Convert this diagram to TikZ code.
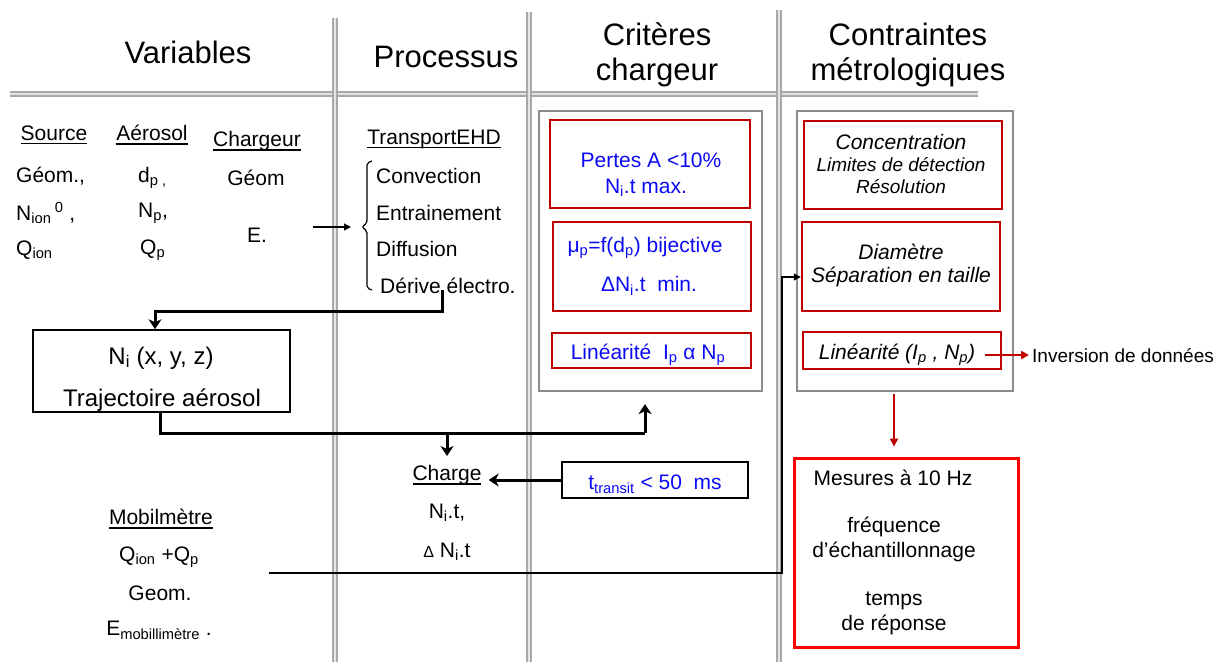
\documentclass[tikz,border=0pt]{standalone}
\usepackage{fontspec}
\setmainfont{Liberation Sans}
\usetikzlibrary{arrows.meta}

\definecolor{boxred}{HTML}{C00000}
\definecolor{brightred}{HTML}{FF0000}
\definecolor{boxgray}{HTML}{8C8C8C}
\definecolor{rulegray}{HTML}{A8A8A8}
\definecolor{rulelight}{HTML}{E4E4E4}
\definecolor{textblue}{HTML}{0A0AF5}

\newcommand\bodyfont{\fontsize{21}{25}\selectfont}
\newcommand\boxfont{\fontsize{24}{28}\selectfont}
\newcommand\headfont{\fontsize{31}{35}\selectfont}
\newcommand\smallfont{\fontsize{19}{22}\selectfont}
% underline with a rule that crosses the descenders
\newcommand\undl[1]{\setbox0\hbox{#1}\leavevmode\rlap{\vrule width\wd0 height -2.6pt depth 4.2pt}\box0}

\begin{document}
\begin{tikzpicture}[x=1pt,y=-1pt,
  txt/.style={font=\bodyfont, inner sep=0pt},
  boxtxt/.style={font=\boxfont, inner sep=0pt},
  hdr/.style={font=\headfont, inner sep=0pt, align=center},
  bluetxt/.style={txt, text=textblue},
  itxt/.style={font=\bodyfont\itshape, inner sep=0pt},
  ismall/.style={font=\smallfont\itshape, inner sep=0pt},
  rulebar/.style={draw=rulegray, line width=2pt, double=rulelight, double distance=2pt},
  graybox/.style={draw=boxgray, line width=2.2pt, inner sep=0pt},
  redbox/.style={draw=boxred, line width=2.4pt, inner sep=0pt},
  blackbox/.style={draw=black, line width=1.5pt, inner sep=0pt},
  bigline/.style={line width=3pt, line join=miter},
  bigarrow/.style={bigline, -{Stealth[length=10pt,width=13pt,inset=3pt]}},
  thinarrow/.style={line width=1.3pt, -{Triangle[length=7pt,width=7pt]}},
  redarrow/.style={draw=boxred, line width=2pt, -{Triangle[length=8pt,width=8pt]}},
]
\useasboundingbox (0,0) rectangle (1223,662);

% column titles
\node[hdr] (hvar) at (188,52) {Variables};
\node[hdr] (hproc) at (446,57) {Processus};
\node[hdr] (hcrit) at (657,55) {Critères\\chargeur};
\node[hdr] (hcont) at (908,55) {Contraintes\\métrologiques};

% double rules
\draw[rulebar] (10,94) -- (978,94);
\draw[rulebar] (335,18) -- (335,662);
\draw[rulebar] (529,12) -- (529,662);
\draw[rulebar] (779,10) -- (779,662);

% variables
\node[txt] (source) at (54,135) {\undl{Source}};
\node[txt] (aerosol) at (152,135) {\undl{Aérosol}};
\node[txt] (chargeur) at (257,141) {\undl{Chargeur}};
\node[txt, anchor=west] (geom1) at (16,176) {Géom.,};
\node[txt, anchor=west] (dp) at (138,178) {d\textsubscript{p ,}};
\node[txt] (geom2) at (256,178) {Géom};
\node[txt, anchor=west] (nion) at (16,213) {N\textsubscript{ion}\,\textsuperscript{0} ,};
\node[txt, anchor=west] (np) at (138,213) {N\textsubscript{p},};
\node[txt, anchor=west] (qion) at (16,250) {Q\textsubscript{ion}};
\node[txt, anchor=west] (qp) at (140,250) {Q\textsubscript{p}};
\node[txt] (efield) at (257,235) {E.};

% transport processes
\node[txt] (transport) at (434,139) {\undl{TransportEHD}};
\node[txt, anchor=west] (conv) at (376,176) {Convection};
\node[txt, anchor=west] (entr) at (376,213) {Entrainement};
\node[txt, anchor=west] (diff) at (376,249) {Diffusion};
\node[txt, anchor=west] (derive) at (380,286) {Dérive électro.};
\draw[line width=1.2pt, rounded corners=2pt]
  (372,161) -- (367,163) -- (367,223) -- (362,227) -- (367,231) -- (367,288) -- (372,290);
\coordinate (bracetip) at (362,227);
\coordinate (efrom) at (313,227);
\draw[thinarrow, shorten >=11pt] (efrom) -- (bracetip);

% aerosol trajectory box
\node[blackbox, minimum width=257pt, minimum height=82pt] (nibox) at (161.5,371) {};
\node[boxtxt] (nitxt) at (161,358) {N\textsubscript{i} (x, y, z)};
\node[boxtxt] (trajtxt) at (162,400) {Trajectoire aérosol};

% charge
\node[txt] (charge) at (447,475) {\undl{Charge}};
\node[txt] (nit) at (447,513) {N\textsubscript{i}.t,};
\node[txt] (dnit) at (447,552) {{\fontsize{16}{16}\selectfont Δ} N\textsubscript{i}.t};

% mobility meter
\node[txt] (mobil) at (161,519) {\undl{Mobilmètre}};
\node[txt] (qq) at (159,557) {Q\textsubscript{ion} +Q\textsubscript{p}};
\node[txt] (geom3) at (160,593) {Geom.};
\node[txt] (emob) at (159,630) {E\textsubscript{mobillimètre} .};

% charger criteria
\node[graybox, minimum width=223pt, minimum height=280pt] (critbox) at (650.5,251) {};
\node[redbox, minimum width=200pt, minimum height=88pt] (rc1) at (650,164) {};
\node[bluetxt] (rc1a) at (651,160) {Pertes A <10\%};
\node[bluetxt] (rc1b) at (646,188) {N\textsubscript{i}.t max.};
\node[redbox, minimum width=198pt, minimum height=89pt] (rc2) at (652,266.5) {};
\node[bluetxt] (rc2a) at (645,248) {μ\textsubscript{p}=f(d\textsubscript{p}) bijective};
\node[bluetxt] (rc2b) at (649,286) {ΔN\textsubscript{i}.t\ \ min.};
\node[redbox, minimum width=199pt, minimum height=35pt] (rc3) at (651.5,350.5) {};
\node[bluetxt] (rc3a) at (648,355) {Linéarité\ \ I\textsubscript{p} α N\textsubscript{p}};

\node[blackbox, minimum width=186pt, minimum height=36pt] (tbox) at (655,480) {};
\node[bluetxt] (ttxt) at (655,484) {t\textsubscript{transit} < 50\ \ ms};

% metrological constraints
\node[graybox, minimum width=216pt, minimum height=280pt] (contbox) at (905,251) {};
\node[redbox, minimum width=198pt, minimum height=88pt] (rk1) at (903,165) {};
\node[itxt] (rk1a) at (901,142) {Concentration};
\node[ismall] (rk1b) at (901,165) {Limites de détection};
\node[ismall] (rk1c) at (901,187) {Résolution};
\node[redbox, minimum width=198pt, minimum height=89pt] (rk2) at (901,266.5) {};
\node[itxt] (rk2a) at (901,252) {Diamètre};
\node[itxt] (rk2b) at (901,277) {Séparation en taille};
\node[redbox, minimum width=198pt, minimum height=37pt] (rk3) at (902,350.5) {};
\node[itxt] (rk3a) at (897,355) {Linéarité (I\textsubscript{p} , N\textsubscript{p})};
\node[font=\smallfont, inner sep=0pt, anchor=west] (inv) at (1032,356) {Inversion de données};
\coordinate (linend) at (985,355);
\draw[redarrow, shorten >=3pt] (linend) -- (inv.west |- linend);

\node[draw=brightred, line width=3pt, minimum width=224pt, minimum height=189pt, inner sep=0pt] (mesbox) at (906,552.5) {};
\node[txt] (mes1) at (893,478) {Mesures à 10 Hz};
\node[txt] (mes2) at (894,527) {fréquence};
\node[txt] (mes3) at (894,552) {d’échantillonnage};
\node[txt] (mes4) at (894,601) {temps};
\node[txt] (mes5) at (894,625) {de réponse};
\coordinate (mesx) at (894,0);
\draw[redarrow, shorten <=2pt, shorten >=10pt] (contbox.south -| mesx) -- (mesbox.north -| mesx);

% connectors
\coordinate (dsrc) at (442,290);
\coordinate (dturn) at (442,311);
\coordinate (nix) at (155,0);
\draw[bigarrow] (dsrc) -- (dturn) -| (nibox.north -| nix);

\coordinate (j1) at (160,433);
\coordinate (j2) at (645,433);
\coordinate (j3) at (447,433);
\draw[bigline] (nibox.south -| j1) |- (j2);
\draw[bigarrow, shorten >=12pt] (j2) -- (critbox.south -| j2);
\draw[bigarrow, shorten >=9pt] (j3) -- (charge.north);
\draw[bigarrow, shorten >=7pt] (tbox.west) -- (tbox.west -| charge.east);

\coordinate (m0) at (269,573);
\coordinate (m1) at (782,277);
\draw[thinarrow] (m0) -| (m1) -- (rk2.west |- m1);
\end{tikzpicture}
\end{document}
